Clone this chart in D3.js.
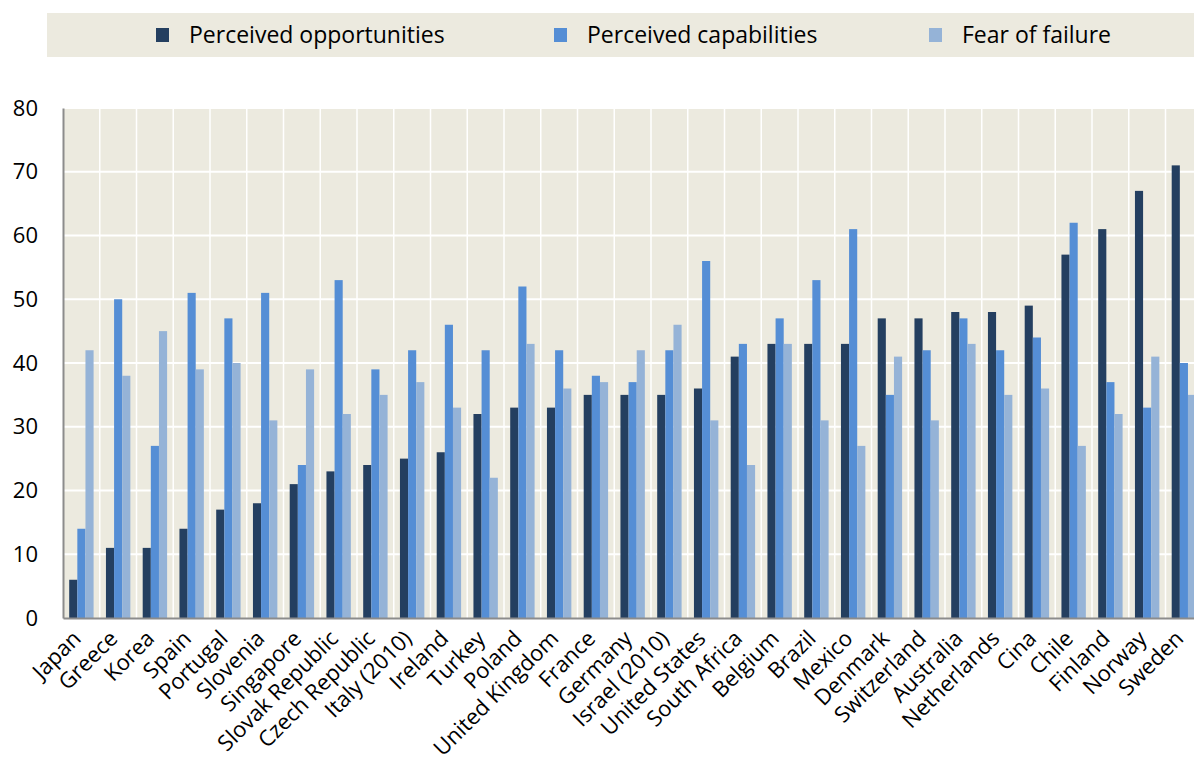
<!DOCTYPE html>
<html>
<head>
<meta charset="utf-8">
<script src="https://cdn.jsdelivr.net/npm/d3@7"></script>
<style>
  html, body { margin: 0; padding: 0; background: #ffffff; overflow: hidden; }
  svg { display: block; }
  text { font-family: "Open Sans", "Liberation Sans", sans-serif; fill: #000; }
</style>
</head>
<body>
<svg id="chart" width="1194" height="762"></svg>
<script>
// Countries along the x axis
const countries = [
  "Japan", "Greece", "Korea", "Spain", "Portugal", "Slovenia", "Singapore",
  "Slovak Republic", "Czech Republic", "Italy (2010)", "Ireland", "Turkey",
  "Poland", "United Kingdom", "France", "Germany", "Israel (2010)",
  "United States", "South Africa", "Belgium", "Brazil", "Mexico", "Denmark",
  "Switzerland", "Australia", "Netherlands", "Cina", "Chile", "Finland",
  "Norway", "Sweden"
];

// Series names and values (%)
const seriesNames = ["Perceived opportunities", "Perceived capabilities", "Fear of failure"];
const opportunities = [6, 11, 11, 14, 17, 18, 21, 23, 24, 25, 26, 32, 33, 33, 35, 35, 35, 36, 41, 43, 43, 43, 47, 47, 48, 48, 49, 57, 61, 67, 71];
const capabilities  = [14, 50, 27, 51, 47, 51, 24, 53, 39, 42, 46, 42, 52, 42, 38, 37, 42, 56, 43, 47, 53, 61, 35, 42, 47, 42, 44, 62, 37, 33, 40];
const fearOfFailure = [42, 38, 45, 39, 40, 31, 39, 32, 35, 37, 33, 22, 43, 36, 37, 42, 46, 31, 24, 43, 31, 27, 41, 31, 43, 35, 36, 27, 32, 41, 35];

// Y axis ticks
const yTicks = [0, 10, 20, 30, 40, 50, 60, 70, 80];

const colors = ["#243F60", "#558ED5", "#95B3D7"];
const bg = "#ECEADF";

const table = countries.map((c, i) => ({
  country: c,
  values: [opportunities[i], capabilities[i], fearOfFailure[i]]
}));

const svg = d3.select("#chart");

const plot = { left: 63, top: 108, bottom: 618 };
const catWidth = 36.75;

const x = d3.scaleBand()
  .domain(countries)
  .range([plot.left, plot.left + catWidth * countries.length])
  .paddingInner(0).paddingOuter(0);

const xSub = d3.scaleBand()
  .domain(d3.range(seriesNames.length))
  .range([6.2, 30.6])
  .paddingInner(0);

const y = d3.scaleLinear().domain([0, 80]).range([plot.bottom, plot.top]);

// Legend band
svg.append("rect")
  .attr("x", 47).attr("y", 13)
  .attr("width", 1194 - 47).attr("height", 44)
  .attr("fill", bg);

const legendPos = [156, 554, 929];
const legend = svg.append("g").selectAll("g")
  .data(seriesNames)
  .join("g")
  .attr("transform", (d, i) => `translate(${legendPos[i]},35)`);
legend.append("rect")
  .attr("x", 0).attr("y", -7).attr("width", 13).attr("height", 14)
  .attr("fill", (d, i) => colors[i]);
legend.append("text")
  .attr("x", 33).attr("y", 0)
  .attr("dy", "0.35em")
  .style("font-size", "23px")
  .text(d => d);

// Plot background
svg.append("rect")
  .attr("x", plot.left).attr("y", plot.top)
  .attr("width", 1194 - plot.left).attr("height", plot.bottom - plot.top)
  .attr("fill", bg);

// Horizontal gridlines
svg.append("g").selectAll("line")
  .data(yTicks.filter(t => t > 0))
  .join("line")
  .attr("x1", plot.left).attr("x2", 1194)
  .attr("y1", d => y(d)).attr("y2", d => y(d))
  .attr("stroke", "#ffffff").attr("stroke-width", 2);

// Vertical gridlines at category boundaries
svg.append("g").selectAll("line")
  .data(countries.slice(1))
  .join("line")
  .attr("x1", d => x(d)).attr("x2", d => x(d))
  .attr("y1", plot.top).attr("y2", plot.bottom)
  .attr("stroke", "#ffffff").attr("stroke-width", 1.5);

// Bars
const groups = svg.append("g").selectAll("g")
  .data(table)
  .join("g")
  .attr("transform", d => `translate(${x(d.country)},0)`);
groups.selectAll("rect")
  .data(d => d.values)
  .join("rect")
  .attr("x", (v, i) => xSub(i))
  .attr("width", xSub.bandwidth())
  .attr("y", v => y(v))
  .attr("height", v => y(0) - y(v))
  .attr("fill", (v, i) => colors[i]);

// Y axis
const yAxis = svg.append("g")
  .attr("transform", `translate(${plot.left},0)`)
  .call(d3.axisLeft(y).tickValues(yTicks).tickSize(0).tickPadding(25));
yAxis.select(".domain").attr("stroke", "#8c8c8c").attr("stroke-width", 2);
yAxis.selectAll("text").style("font-size", "22px").attr("fill", "#000");

// X axis
const xAxis = svg.append("g")
  .attr("transform", `translate(0,${plot.bottom})`)
  .call(d3.axisBottom(x).tickSize(0).tickFormat(""));
xAxis.select(".domain").attr("stroke", "#8c8c8c").attr("stroke-width", 2);

svg.append("g").selectAll("text")
  .data(countries)
  .join("text")
  .attr("transform", d => `translate(${x(d) + x.bandwidth() / 2 - 3},${plot.bottom + 18}) rotate(-45)`)
  .attr("text-anchor", "end")
  .attr("dy", "0.25em")
  .style("font-size", "22px")
  .text(d => d);
</script>
</body>
</html>
